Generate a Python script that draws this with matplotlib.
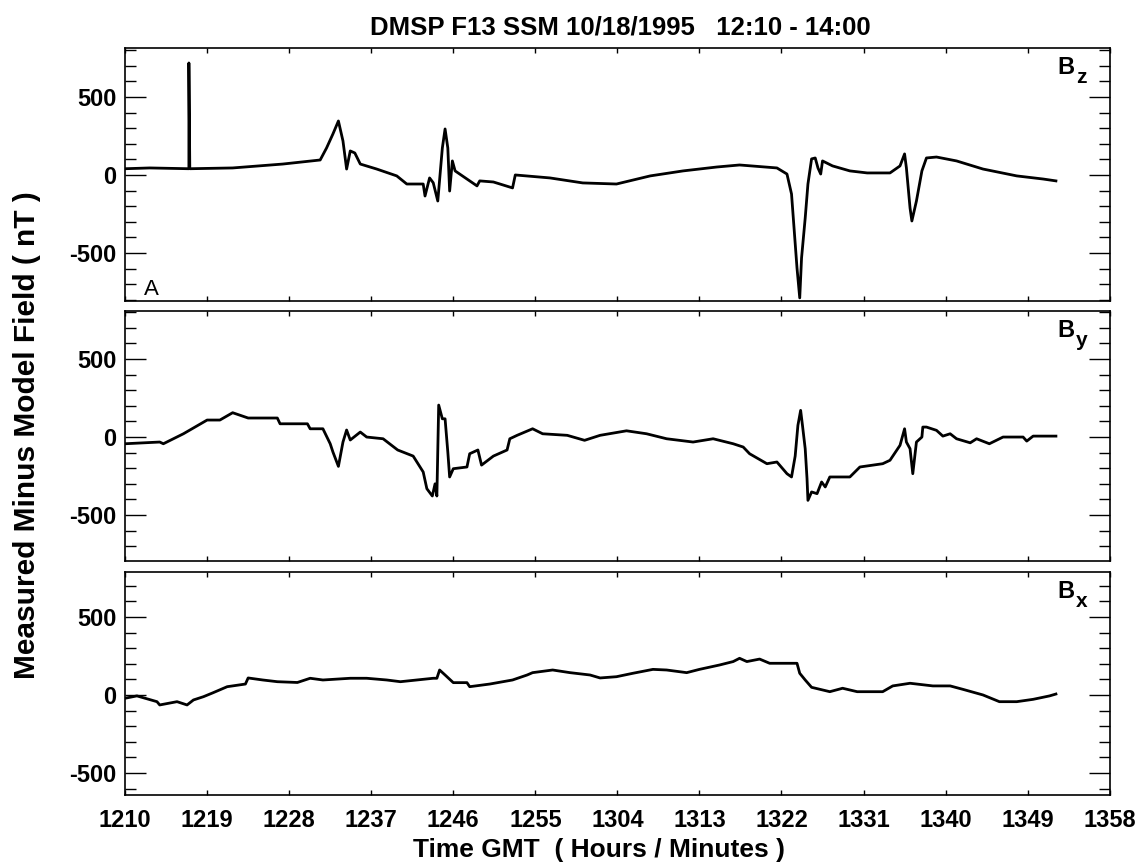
import matplotlib
matplotlib.use("Agg")
import matplotlib.pyplot as plt
from matplotlib.ticker import MultipleLocator

plt.rcParams['font.family'] = ['Liberation Sans', 'DejaVu Sans']
plt.rcParams['font.weight'] = 'bold'

# time = minutes after 12:10 UT
tick_pos = [0, 9, 18, 27, 36, 45, 54, 63, 72, 81, 90, 99, 108]
tick_labels = ['1210', '1219', '1228', '1237', '1246', '1255', '1304',
               '1313', '1322', '1331', '1340', '1349', '1358']

bz_t = [0.0, 2.7, 7.0, 7.0, 7.1, 11.8, 17.3, 21.4, 22.1, 22.8, 23.4, 23.9, 24.3,
        24.7, 25.2, 25.8, 27.6, 29.8, 30.9, 32.7, 32.9, 33.4, 33.8, 34.3, 34.8,
        35.1, 35.4, 35.6, 35.9, 36.2, 37.5, 38.6, 38.9, 40.4, 42.5, 42.8, 46.6,
        50.2, 53.9, 57.6, 61.2, 64.9, 67.4, 71.5, 72.6, 73.1, 73.7, 74.0, 74.2,
        74.6, 74.9, 75.3, 75.7, 76.0, 76.3, 76.5, 77.6, 79.5, 81.4, 83.9, 85.0,
        85.5, 85.7, 86.1, 86.3, 86.8, 87.4, 87.9, 89.0, 91.2, 94.1, 97.8, 100.7,
        102.1]
bz_v = [40, 45, 40, 718, 40, 45, 70, 96, 173, 263, 346, 218, 38,
        154, 141, 70, 38, -6, -58, -58, -135, -19, -50, -167, 173,
        295, 173, -103, 90, 26, -26, -70, -38, -45, -83, 0, -19,
        -51, -58, -6, 26, 51, 64, 45, 6, -122, -596, -788, -532,
        -276, -58, 103, 109, 45, 6, 90, 58, 26, 13, 13, 58,
        135, 45, -212, -295, -167, 26, 109, 115, 90, 38, -6, -26,
        -38]

by_t = [0.0, 3.8, 4.2, 6.4, 9.0, 10.4, 11.8, 13.5, 16.7, 17.0, 20.0, 20.3, 21.7,
        22.5, 22.8, 23.4, 23.9, 24.3, 24.7, 25.8, 26.5, 28.3, 29.9, 31.6, 32.7,
        33.1, 33.7, 34.0, 34.2, 34.4, 34.8, 35.1, 35.4, 35.6, 36.0, 37.5, 37.8,
        38.7, 39.1, 40.4, 41.9, 42.2, 43.0, 44.7, 45.8, 48.5, 50.4, 52.1, 55.0,
        57.2, 59.4, 62.3, 64.5, 66.7, 67.8, 68.5, 70.4, 71.5, 72.6, 73.1, 73.5,
        73.8, 74.1, 74.3, 74.6, 74.8, 74.9, 75.3, 75.9, 76.4, 76.8, 77.3, 79.5,
        80.6, 83.1, 83.9, 85.0, 85.5, 85.7, 86.1, 86.4, 86.8, 87.4, 87.5, 87.9,
        89.0, 89.7, 90.5, 91.2, 92.7, 93.4, 94.8, 96.3, 98.5, 98.9, 99.6, 102.1]
by_v = [-43, -32, -43, 21, 109, 109, 156, 122, 122, 85, 85, 53, 53,
        -43, -96, -188, -32, 45, -19, 32, 0, -11, -83, -122, -224,
        -331, -378, -300, -378, 205, 117, 117, -96, -256, -203, -192, -107,
        -83, -180, -122, -83, -11, 11, 53, 21, 11, -21, 11, 40,
        21, -11, -32, -11, -43, -64, -107, -171, -160, -235, -256, -122,
        75, 171, 75, -75, -267, -406, -352, -363, -288, -320, -256, -256,
        -192, -171, -149, -53, 53, -32, -75, -235, -32, 0, 64, 64,
        43, 6, 21, -11, -37, -11, -43, 0, 0, -26, 6, 6]

bx_t = [0.0, 1.3, 3.5, 3.8, 5.7, 6.8, 7.5, 8.6, 9.6, 11.2, 13.2, 13.5, 15.1,
        16.7, 18.9, 20.3, 21.7, 24.7, 26.5, 28.7, 30.2, 33.8, 34.2, 34.5, 35.1,
        36.0, 37.5, 37.8, 40.0, 42.5, 44.1, 44.7, 46.9, 48.8, 51.0, 52.1, 53.9,
        55.7, 57.9, 59.4, 61.6, 63.0, 65.2, 66.7, 67.4, 68.2, 69.6, 70.7, 73.7,
        74.0, 74.6, 75.3, 77.3, 78.7, 80.3, 83.1, 84.2, 86.1, 88.6, 90.5, 91.9,
        94.1, 95.9, 97.8, 99.6, 101.4, 102.1]
bx_v = [-21, -6, -43, -64, -43, -64, -32, -11, 13, 53, 70, 109, 96,
        85, 80, 107, 96, 107, 107, 96, 85, 107, 107, 160, 128,
        79, 79, 53, 70, 96, 128, 143, 160, 143, 128, 109, 117,
        139, 164, 160, 143, 164, 192, 214, 235, 214, 230, 203, 203,
        139, 96, 49, 21, 43, 21, 21, 58, 75, 58, 58, 36,
        0, -43, -43, -28, -6, 6]

panels = [
    (bz_t, bz_v, 'z', [0.110, 0.6512, 0.866, 0.2932], (-808, 814)),
    (by_t, by_v, 'y', [0.110, 0.3499, 0.866, 0.2897], (-795, 808)),
    (bx_t, bx_v, 'x', [0.110, 0.0788, 0.866, 0.2584], (-641, 788)),
]

fig = plt.figure(figsize=(11.37, 8.63), dpi=100)

for i, (t, v, comp, rect, ylim) in enumerate(panels):
    ax = fig.add_axes(rect)
    ax.plot(t, v, color='black', linewidth=2.0)
    ax.set_xlim(0, 108)
    ax.set_ylim(*ylim)
    ax.set_xticks(tick_pos)
    if i == 2:
        ax.set_xticklabels(tick_labels)
    else:
        ax.set_xticklabels([])
    ax.set_yticks([-500, 0, 500])
    ax.set_yticklabels(['-500', '0', '500'])
    ax.yaxis.set_minor_locator(MultipleLocator(100))
    ax.tick_params(axis='x', which='major', direction='in', top=True, bottom=True,
                   length=3.6, width=1.0, labelsize=17, pad=10)
    ax.tick_params(axis='y', which='major', direction='in', left=True, right=True,
                   length=15, width=1.0, labelsize=17, pad=6)
    ax.tick_params(axis='y', which='minor', direction='in', left=True, right=True,
                   length=8, width=1.0)
    for s in ax.spines.values():
        s.set_linewidth(1.2)
    # component label B_z / B_y / B_x
    ax.annotate('B', xy=(1, 1), xycoords='axes fraction', xytext=(-35, -8),
                textcoords='offset pixels', ha='right', va='top', fontsize=17)
    ax.annotate(comp, xy=(1, 1), xycoords='axes fraction', xytext=(-34, -20),
                textcoords='offset pixels', ha='left', va='top', fontsize=15)
    if i == 0:
        ax.text(0.027, 0.005, 'A', transform=ax.transAxes, ha='center', va='bottom',
                fontsize=16, fontweight='normal')

fig.text(0.546, 0.9676, 'DMSP F13 SSM 10/18/1995   12:10 - 14:00',
         ha='center', va='center', fontsize=18.5)
fig.text(0.527, 0.015, 'Time GMT  ( Hours / Minutes )',
         ha='center', va='center', fontsize=19)
fig.text(0.024, 0.496, 'Measured Minus Model Field ( nT )',
         ha='center', va='center', rotation=90, fontsize=21.5)

fig.savefig('out.png', dpi=100)
